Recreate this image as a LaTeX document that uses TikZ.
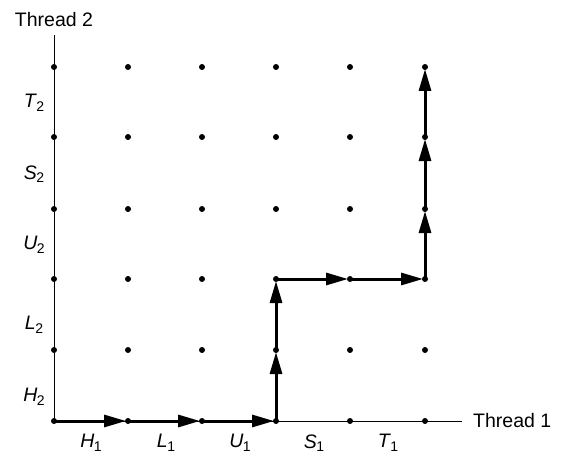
\documentclass[tikz,border=0pt]{standalone}
\usepackage{fontspec}
\setmainfont{Liberation Sans}
\usetikzlibrary{arrows.meta}
\tikzset{
  ax/.style={line width=0.9pt},
  path seg/.style={line width=3pt,-{Triangle[length=22pt,width=12pt]},shorten >=2pt},
  gdot/.style={circle,fill=black,inner sep=0pt,minimum size=6pt},
  lab/.style={font=\fontsize{19.5}{22}\selectfont,inner sep=0pt}
}
\newcommand{\lbl}[2]{\textit{#1}\kern-0.5pt\raisebox{-0.35ex}{\fontsize{14}{14}\selectfont #2}}
\begin{document}
\begin{tikzpicture}[x=1pt,y=-1pt]
\useasboundingbox (0,0) rectangle (564,468);
% grid coordinates
\foreach \i/\x in {0/54,1/128,2/202,3/276,4/350,5/425}{
  \foreach \j/\y in {0/421,1/350,2/279,3/209,4/137,5/67}{
    \coordinate (p\i\j) at (\x,\y);
  }
}
\coordinate (xend) at (462,421);
\coordinate (yend) at (54,35);
\draw[ax] (p00) -- (xend);
\draw[ax] (p00) -- (yend);
\node[lab,anchor=west] (t1) at (473,421) {Thread 1};
\node[lab,anchor=south] (t2) at (54,27) {Thread 2};
% path
\draw[path seg] (p00) -- (p10);
\draw[path seg] (p10) -- (p20);
\draw[path seg] (p20) -- (p30);
\draw[path seg] (p30) -- (p31);
\draw[path seg] (p31) -- (p32);
\draw[path seg] (p32) -- (p42);
\draw[path seg] (p42) -- (p52);
\draw[path seg] (p52) -- (p53);
\draw[path seg] (p53) -- (p54);
\draw[path seg] (p54) -- (p55);
% dots
\foreach \i in {0,...,5}{
  \foreach \j in {0,...,5}{
    \node[gdot] (d\i\j) at (p\i\j) {};
  }
}
% labels
\node[lab] (h1) at (91,443) {\lbl{H}{1}};
\node[lab] (l1) at (166,443) {\lbl{L}{1}};
\node[lab] (u1) at (240,443) {\lbl{U}{1}};
\node[lab] (s1) at (314,443) {\lbl{S}{1}};
\node[lab] (tt1) at (388,443) {\lbl{T}{1}};
\node[lab] (h2) at (34,397) {\lbl{H}{2}};
\node[lab] (l2) at (34,325) {\lbl{L}{2}};
\node[lab] (u2) at (34,245) {\lbl{U}{2}};
\node[lab] (s2) at (34,174) {\lbl{S}{2}};
\node[lab] (tt2) at (34,103) {\lbl{T}{2}};
\end{tikzpicture}
\end{document}
